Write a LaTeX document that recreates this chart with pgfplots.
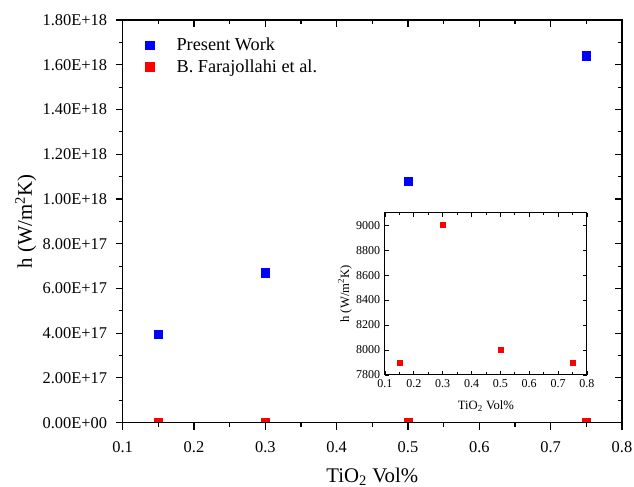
\documentclass[border=0pt]{standalone}
\usepackage{fontspec}
\setmainfont{Liberation Serif}
\usepackage{pgfplots}
\pgfplotsset{compat=1.18}
\begin{document}
\begin{tikzpicture}
\path[use as bounding box] (-92pt,-48.2pt) rectangle (383.5pt,317pt);
\pgfplotsset{
  mainframe/.style={scale only axis, width=374.5pt, height=302pt,
    xmin=0.1, xmax=0.8, ymin=0, ymax=1.8e18,
    scaled y ticks=false, scaled x ticks=false,
    xtick={0.1,0.2,0.3,0.4,0.5,0.6,0.7,0.8},
    ytick={0,2e17,4e17,6e17,8e17,1e18,1.2e18,1.4e18,1.6e18,1.8e18},
    minor x tick num=1, minor y tick num=1,
    axis line style={line width=0.9pt},
    major tick length=5.25pt, minor tick length=3pt,
    every tick/.style={black, line width=0.8pt}},
}
\begin{axis}[mainframe,
  tick align=outside, xtick pos=left, ytick pos=left,
  xticklabels={0.1,0.2,0.3,0.4,0.5,0.6,0.7,0.8},
  yticklabels={0.00E+00,2.00E+17,4.00E+17,6.00E+17,8.00E+17,1.00E+18,1.20E+18,1.40E+18,1.60E+18,1.80E+18},
  tick label style={font=\fontsize{12.3}{14}\selectfont},
  xticklabel style={yshift=-5.5pt},
  yticklabel style={xshift=-3pt},
  xlabel={TiO\textsubscript{2} Vol\%},
  ylabel={h (W/m\textsuperscript{2}K)},
  label style={font=\fontsize{15.6}{18}\selectfont},
  xlabel style={at={(axis description cs:0.5,-0.1336)}, anchor=center},
  ylabel style={at={(axis description cs:-0.194,0.5)}, anchor=center},
  legend style={draw=none, fill=none, inner sep=0pt, outer sep=0pt,
    nodes={inner sep=0pt},
    at={(0.046,0.955)}, anchor=north west,
    font=\fontsize{13.7}{16}\selectfont, row sep=5pt},
  legend cell align=left,
  clip marker paths=true,
]
\addplot[only marks, mark=square*, mark size=3.1pt, draw=blue, fill=blue] coordinates {
  (0.15,3.95e17) (0.3,6.7e17) (0.5,1.08e18) (0.75,1.64e18)};
\addlegendentry{\hspace{17pt}Present Work}
\addplot[only marks, mark=square*, mark size=3.1pt, draw=red, fill=red] coordinates {
  (0.15,0) (0.3,0) (0.5,0) (0.75,0)};
\addlegendentry{\hspace{17pt}B. Farajollahi et al.}
\end{axis}
\begin{axis}[mainframe,
  tick align=inside, xtick pos=right, ytick pos=right,
  xticklabels={}, yticklabels={}]
\end{axis}
\begin{axis}[at={(196.7pt,35.8pt)}, anchor=south west,
  scale only axis, width=151.5pt, height=121.7pt,
  xmin=0.1, xmax=0.8, ymin=7800, ymax=9100,
  xtick={0.1,0.2,0.3,0.4,0.5,0.6,0.7,0.8},
  xticklabels={0.1,0.2,0.3,0.4,0.5,0.6,0.7,0.8},
  ytick={7800,8000,8200,8400,8600,8800,9000},
  yticklabels={7800,8000,8200,8400,8600,8800,9000},
  minor x tick num=1,
  tick align=inside,
  major tick length=3pt, minor tick length=2pt,
  every tick/.style={black, line width=0.6pt},
  axis line style={line width=0.7pt},
  tick label style={font=\fontsize{9}{10}\selectfont},
  xlabel={TiO\textsubscript{2} Vol\%},
  ylabel={h (W/m\textsuperscript{2}K)},
  label style={font=\fontsize{9.5}{11}\selectfont},
  xlabel style={at={(axis description cs:0.5,-0.19)}, anchor=center},
  ylabel style={at={(axis description cs:-0.198,0.5)}, anchor=center},
  clip=false,
]
\addplot[only marks, mark=square*, mark size=1.9pt, draw=red, fill=red] coordinates {
  (0.15,7900) (0.3,9000) (0.5,8000) (0.75,7900)};
\end{axis}
\end{tikzpicture}
\end{document}
